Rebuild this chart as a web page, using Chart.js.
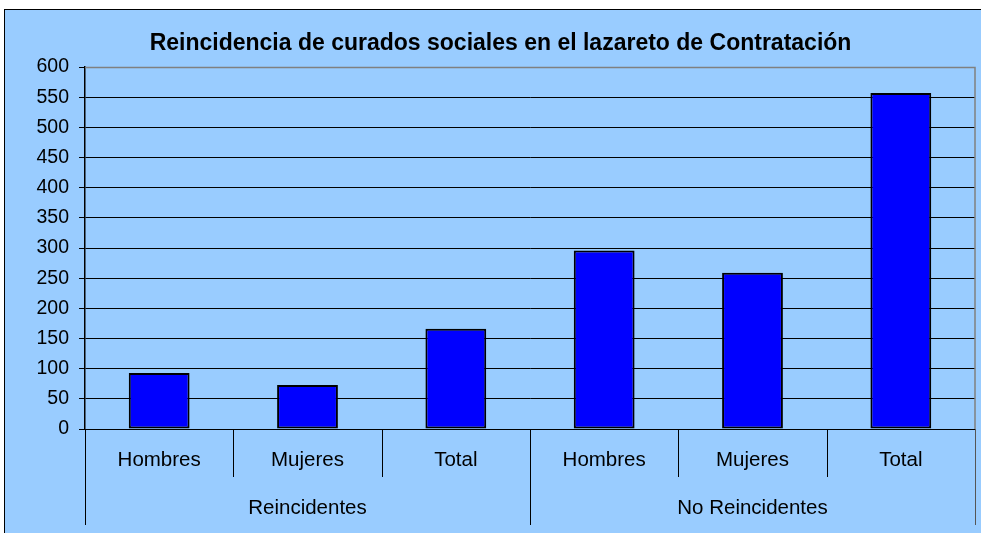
<!DOCTYPE html>
<html>
<head>
<meta charset="utf-8">
<script src="https://cdn.jsdelivr.net/npm/chart.js@4.4.1/dist/chart.umd.min.js"></script>
<style>
  html, body { margin: 0; padding: 0; background: #fff; }
  #wrap { width: 981px; height: 533px; position: relative; }
</style>
</head>
<body>
<div id="wrap"><canvas id="barChart"></canvas></div>
<script>
// ---------------- data ----------------
var categories = ["Hombres", "Mujeres", "Total", "Hombres", "Mujeres", "Total"];
var groups = ["Reincidentes", "No Reincidentes"];
var groupSizes = [3, 3];
var values = [93, 73, 166, 296, 259, 557];
var yMin = 0, yMax = 600, yStep = 50;

var FONT = '"Liberation Sans", Arial, sans-serif';
var BG = "#99CCFF";

// background box + grey plot border
var boxPlugin = {
  id: "box",
  beforeDraw: function (chart) {
    var c = chart.ctx;
    c.save();
    c.fillStyle = "#fff";
    c.fillRect(0, 0, chart.width, chart.height);
    c.fillStyle = BG;
    c.fillRect(4, 9, chart.width, chart.height);
    c.strokeStyle = "#000";
    c.lineWidth = 1;
    c.strokeRect(4.5, 9.5, chart.width + 10, chart.height + 10);
    c.restore();
  },
  afterDatasetsDraw: function (chart) {
    var c = chart.ctx, a = chart.chartArea;
    c.save();
    c.strokeStyle = "#808080";
    c.lineWidth = 1.5;
    c.beginPath();
    c.moveTo(a.left, a.top + 0.5);
    c.lineTo(a.right, a.top + 0.5);
    c.lineTo(a.right, a.bottom);
    c.stroke();
    c.restore();
  }
};

// two level category axis
var groupAxisPlugin = {
  id: "groupAxis",
  afterDraw: function (chart) {
    var c = chart.ctx, a = chart.chartArea, x = chart.scales.x;
    var w = (a.right - a.left) / categories.length;
    c.save();
    c.strokeStyle = "#000";
    c.lineWidth = 1;
    c.beginPath();
    c.moveTo(a.left, a.bottom + 0.5);
    c.lineTo(a.right, a.bottom + 0.5);
    c.stroke();

    // separators
    var bounds = [0];
    var n = 0;
    groupSizes.forEach(function (g) { n += g; bounds.push(n); });
    for (var i = 0; i <= categories.length; i++) {
      var px = Math.round(a.left + i * w) + 0.5;
      var long = bounds.indexOf(i) >= 0;
      c.strokeStyle = i === categories.length ? "#555" : "#000";
      c.beginPath();
      c.moveTo(px, a.bottom);
      c.lineTo(px, a.bottom + (long ? 96 : 48));
      c.stroke();
    }

    c.fillStyle = "#000";
    c.font = "20.5px " + FONT;
    c.textAlign = "center";
    c.textBaseline = "middle";
    categories.forEach(function (lab, i) {
      c.fillText(lab, x.getPixelForValue(i), a.bottom + 31);
    });
    var start = 0;
    groups.forEach(function (g, gi) {
      var end = start + groupSizes[gi];
      var cx = (x.getPixelForValue(start) + x.getPixelForValue(end - 1)) / 2;
      c.fillText(g, cx, a.bottom + 79);
      start = end;
    });
    c.restore();
  }
};

var ctx = document.getElementById("barChart").getContext("2d");
var barChart = new Chart(ctx, {
  type: "bar",
  data: {
    labels: categories,
    datasets: [
      {
        label: "Curados",
        data: values,
        backgroundColor: "#0000FF",
        borderColor: "#000",
        borderWidth: 2,
        borderSkipped: false,
        categoryPercentage: 1,
        barPercentage: 0.41
      }
    ]
  },
  options: {
    responsive: true,
    maintainAspectRatio: false,
    animation: false,
    layout: { padding: { top: 9, left: 26, right: 6, bottom: 0 } },
    plugins: {
      legend: { display: false },
      tooltip: { enabled: false },
      title: {
        display: true,
        text: "Reincidencia de curados sociales en el lazareto de Contratación",
        color: "#000",
        font: { family: FONT, size: 23, weight: "bold", lineHeight: 1.2 },
        padding: { top: 21, bottom: 9.4 }
      }
    },
    scales: {
      x: {
        grid: { display: false },
        border: { display: false },
        ticks: { display: false },
        afterFit: function (s) { s.height = 104; }
      },
      y: {
        min: yMin,
        max: yMax,
        ticks: {
          stepSize: yStep,
          color: "#000",
          padding: 10,
          font: { family: FONT, size: 19.5 }
        },
        grid: {
          color: function (c) { return c.tick && c.tick.value === yMax ? "#808080" : "#000"; },
          tickColor: "#000",
          tickLength: 6,
          lineWidth: 1
        },
        border: { color: "#000", width: 1.5 },
        afterFit: function (s) { s.width = 59; }
      }
    }
  },
  plugins: [boxPlugin, groupAxisPlugin]
});
</script>
</body>
</html>
